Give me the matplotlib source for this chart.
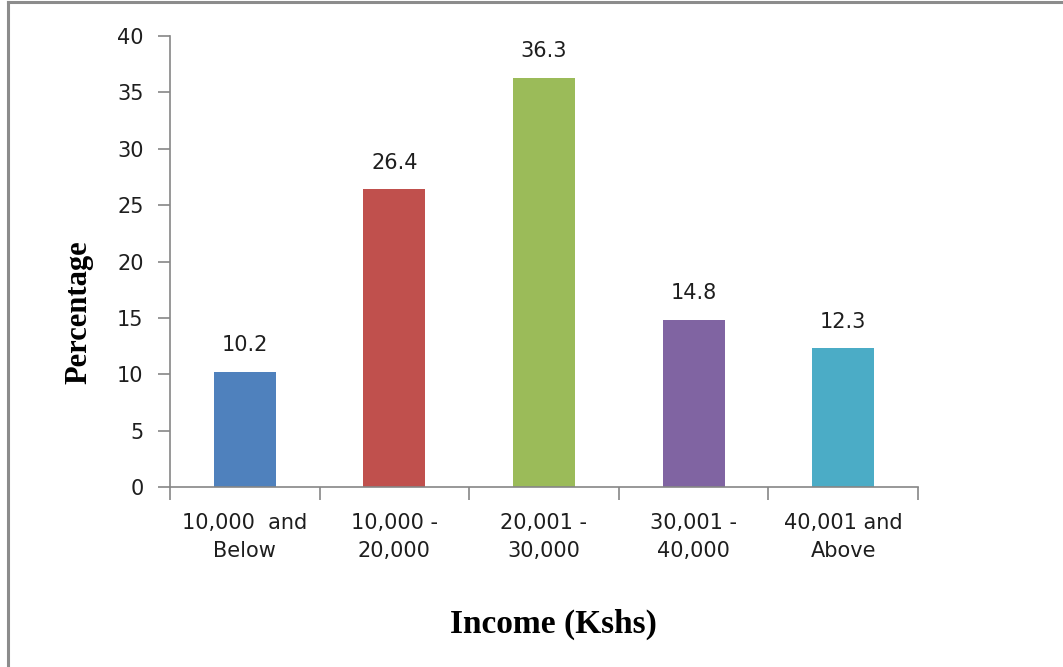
import matplotlib
matplotlib.use("Agg")
import matplotlib.pyplot as plt
from matplotlib.lines import Line2D

# income groups and share of respondents (%)
categories = ["10,000  and\nBelow", "10,000 -\n20,000", "20,001 -\n30,000",
              "30,001 -\n40,000", "40,001 and\nAbove"]
percentages = [10.2, 26.4, 36.3, 14.8, 12.3]
bar_colors = ["#4F81BD", "#C0504D", "#9BBB59", "#8064A2", "#4BACC6"]
y_ticks = [0, 5, 10, 15, 20, 25, 30, 35, 40]

label_font = "DejaVu Sans"
title_font = "Liberation Serif"
fs = 15
grey = "#868686"
text_color = "#1e1e1e"

fig = plt.figure(figsize=(10.63, 6.67), dpi=100)
ax = fig.add_axes([170 / 1063, 1 - 487 / 667, 748 / 1063, 451 / 667])

x = list(range(len(categories)))
bars = ax.bar(x, percentages, width=0.415, color=bar_colors)

for b, v in zip(bars, percentages):
    ax.annotate(f"{v}", (b.get_x() + b.get_width() / 2, v),
                xytext=(0, 12), textcoords="offset points",
                ha="center", va="bottom", fontsize=fs,
                family=label_font, color=text_color)

ax.set_xlim(-0.5, len(categories) - 0.5)
ax.set_ylim(0, 40)
ax.set_yticks(y_ticks)
ax.set_yticklabels([str(t) for t in y_ticks], family=label_font, fontsize=fs,
                   color=text_color)

# category labels sit between the boundary ticks
ax.set_xticks([i - 0.5 for i in range(len(categories) + 1)])
ax.set_xticklabels([])
ax.set_xticks(x, minor=True)
ax.set_xticklabels(categories, minor=True, family=label_font, fontsize=fs,
                   linespacing=1.45, color=text_color)
ax.tick_params(axis="x", which="minor", length=0, pad=19)
ax.tick_params(axis="x", which="major", length=9, color=grey, width=1.2)
ax.tick_params(axis="y", length=9, color=grey, width=1.2, pad=10)

for side in ["top", "right"]:
    ax.spines[side].set_visible(False)
for side in ["left", "bottom"]:
    ax.spines[side].set_color(grey)
    ax.spines[side].set_linewidth(1.2)

ax.set_ylabel("Percentage", family=title_font, fontweight="bold", fontsize=22)
ax.yaxis.set_label_coords(-0.103, 0.388)
ax.set_xlabel("Income (Kshs)", family=title_font, fontweight="bold", fontsize=24)
ax.xaxis.set_label_coords(0.512, -0.269)

# frame lines along the top and left edges
fig.add_artist(Line2D([8 / 1063, 8 / 1063], [0, 1 - 2 / 667],
                      transform=fig.transFigure, color="#8c8c8c", lw=2.2))
fig.add_artist(Line2D([8 / 1063, 1], [1 - 2 / 667, 1 - 2 / 667],
                      transform=fig.transFigure, color="#8c8c8c", lw=2.2))

fig.savefig("out.png", dpi=100)
